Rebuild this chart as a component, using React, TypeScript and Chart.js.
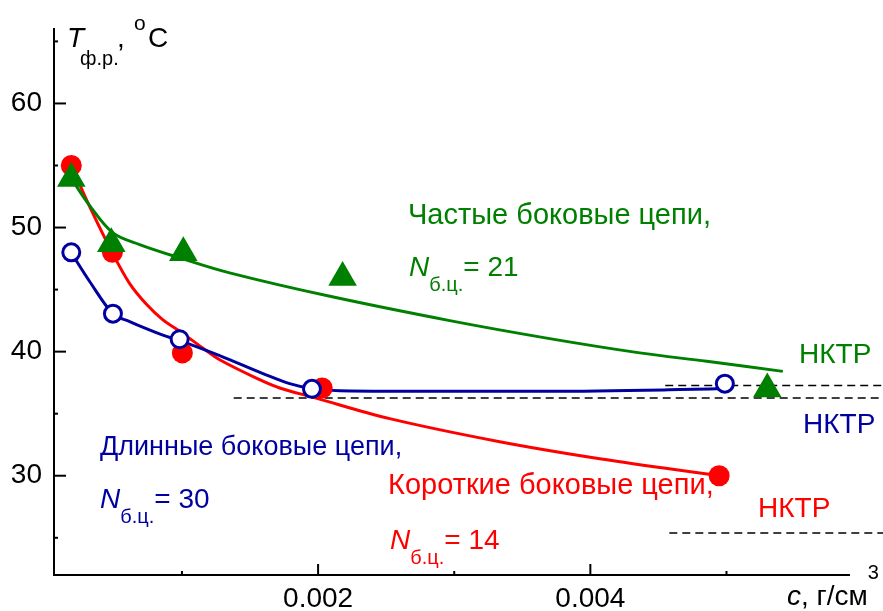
import { useEffect, useRef } from 'react';
import { Chart, registerables } from 'chart.js';

Chart.register(...registerables);

// ---- data (c in g/cm3, T in °C) ----
const redX = [0.000187, 0.000489, 0.001003, 0.00203, 0.004946];
const redY = [55.0, 48.0, 39.9, 37.07, 30.0];
const blueX = [0.000187, 0.000493, 0.000983, 0.001955, 0.004988];
const blueY = [48.0, 43.06, 41.0, 37.0, 37.42];
const greenX = [0.000187, 0.000481, 0.00101, 0.00218, 0.0053];
const greenY = [53.95, 48.7, 47.96, 45.97, 36.99];

const redCurveX = [0.000187, 0.000322, 0.000489, 0.000616, 0.000741, 0.000858, 0.000998, 0.001152, 0.001277, 0.001571, 0.001718, 0.00196, 0.002526, 0.003334, 0.004069, 0.004944];
const redCurveY = [55.0, 51.69, 47.96, 45.48, 43.79, 42.58, 41.53, 40.3, 39.35, 37.74, 37.07, 36.33, 34.6, 32.74, 31.37, 30.0];
const blueCurveX = [0.000187, 0.000322, 0.000493, 0.000616, 0.000738, 0.00086, 0.000983, 0.001277, 0.001595, 0.001791, 0.001953, 0.002159, 0.0026, 0.003702, 0.004657, 0.004988];
const blueCurveY = [47.96, 45.65, 43.06, 42.42, 41.85, 41.33, 40.89, 39.68, 38.23, 37.42, 37.02, 36.85, 36.81, 36.81, 36.94, 37.02];
const greenCurveX = [0.000187, 0.000322, 0.000493, 0.000689, 0.000983, 0.00135, 0.002087, 0.002967, 0.003701, 0.004363, 0.004855, 0.005414];
const greenCurveY = [53.95, 51.77, 49.57, 48.63, 47.56, 46.35, 44.46, 42.5, 41.05, 39.9, 39.22, 38.41];

const dashGreenX = [0.00455, 0.00615];
const dashGreenY = [37.28, 37.28];
const dashBlueX = [0.00138, 0.00615];
const dashBlueY = [36.27, 36.27];
const dashRedX = [0.00458, 0.00615];
const dashRedY = [25.38, 25.38];

const xMajorTicks = [0.002, 0.004];
const xMinorTicks = [0.001, 0.003, 0.005];
const yMajorTicks = [30, 40, 50, 60];
const yMinorTicks = [25, 35, 45, 55, 65];

const RED = '#ff0000';
const BLUE = '#0000a0';
const GREEN = '#008000';
const FONT = '"Liberation Sans", Arial, Helvetica, sans-serif';

const pts = (xs: number[], ys: number[]) => xs.map((x, i) => ({ x, y: ys[i] }));

type Run = { t: string; size: number; italic?: boolean; dy?: number };

function drawRuns(ctx: CanvasRenderingContext2D, x: number, y: number, color: string, runs: Run[]) {
  ctx.fillStyle = color;
  ctx.textBaseline = 'alphabetic';
  ctx.textAlign = 'left';
  let cx = x;
  for (const r of runs) {
    ctx.font = `${r.italic ? 'italic ' : ''}${r.size}px ${FONT}`;
    ctx.fillText(r.t, cx, y + (r.dy || 0));
    cx += ctx.measureText(r.t).width;
  }
}

const decorPlugin = {
  id: 'decor',
  afterDraw(chart: any) {
    const { ctx, chartArea, scales } = chart;
    const xs = scales.x;
    const ys = scales.y;
    ctx.save();
    ctx.strokeStyle = '#000';
    ctx.lineWidth = 2;
    ctx.setLineDash([]);
    const tick = (x1: number, y1: number, x2: number, y2: number) => {
      ctx.beginPath();
      ctx.moveTo(x1, y1);
      ctx.lineTo(x2, y2);
      ctx.stroke();
    };
    for (const v of yMajorTicks) { const p = ys.getPixelForValue(v); tick(chartArea.left, p, chartArea.left + 12, p); }
    for (const v of yMinorTicks) { const p = ys.getPixelForValue(v); tick(chartArea.left, p, chartArea.left + 4, p); }
    for (const v of xMajorTicks) { const p = xs.getPixelForValue(v); tick(p, chartArea.bottom, p, chartArea.bottom - 11); }
    for (const v of xMinorTicks) { const p = xs.getPixelForValue(v); tick(p, chartArea.bottom, p, chartArea.bottom - 4); }

    // axis titles
    drawRuns(ctx, 67, 47, '#000', [{ t: 'T', size: 28, italic: true }]);
    drawRuns(ctx, 80, 65, '#000', [{ t: 'ф.р.', size: 20 }]);
    drawRuns(ctx, 117, 47, '#000', [{ t: ',', size: 28 }]);
    drawRuns(ctx, 134, 30, '#000', [{ t: 'o', size: 21 }]);
    drawRuns(ctx, 148, 47, '#000', [{ t: 'C', size: 28 }]);
    drawRuns(ctx, 787, 605, '#000', [
      { t: 'c', size: 28, italic: true },
      { t: ', г/см', size: 28 },
      { t: '3', size: 20, dy: -26 },
    ]);

    // annotations
    drawRuns(ctx, 408, 224, GREEN, [{ t: 'Частые боковые цепи,', size: 29 }]);
    drawRuns(ctx, 409, 276, GREEN, [
      { t: 'N', size: 28, italic: true },
      { t: 'б.ц.', size: 20, dy: 15 },
      { t: '= 21', size: 28 },
    ]);
    drawRuns(ctx, 100, 455, BLUE, [{ t: 'Длинные боковые цепи,', size: 27 }]);
    drawRuns(ctx, 100, 508, BLUE, [
      { t: 'N', size: 28, italic: true },
      { t: 'б.ц.', size: 20, dy: 15 },
      { t: '= 30', size: 28 },
    ]);
    drawRuns(ctx, 388, 494, RED, [{ t: 'Короткие боковые цепи,', size: 29 }]);
    drawRuns(ctx, 390, 549, RED, [
      { t: 'N', size: 28, italic: true },
      { t: 'б.ц.', size: 20, dy: 15 },
      { t: '= 14', size: 28 },
    ]);
    drawRuns(ctx, 799, 363, GREEN, [{ t: 'НКТР', size: 28 }]);
    drawRuns(ctx, 803, 433, BLUE, [{ t: 'НКТР', size: 28 }]);
    drawRuns(ctx, 758, 517, RED, [{ t: 'НКТР', size: 28 }]);
    ctx.restore();
  },
};

export default function App() {
  const ref = useRef<HTMLCanvasElement | null>(null);
  useEffect(() => {
    const canvas = ref.current;
    if (!canvas) return;
    const curve = (xs: number[], ys: number[], color: string, order: number, monotone: boolean) => ({
      data: pts(xs, ys),
      borderColor: color,
      borderWidth: 3,
      pointRadius: 0,
      showLine: true,
      fill: false,
      tension: 0.35,
      cubicInterpolationMode: monotone ? 'monotone' : 'default',
      order,
    });
    const dash = (xs: number[], ys: number[], order: number) => ({
      data: pts(xs, ys),
      borderColor: '#000',
      borderWidth: 1.5,
      borderDash: [8, 5],
      pointRadius: 0,
      showLine: true,
      fill: false,
      clip: false,
      order,
    });
    const chart = new Chart(canvas, {
      type: 'line',
      data: {
        datasets: [
          {
            data: pts(greenX, greenY),
            showLine: false,
            pointStyle: 'triangle',
            pointRadius: 16.5,
            pointBackgroundColor: GREEN,
            pointBorderColor: GREEN,
            pointBorderWidth: 0,
            order: 0,
            clip: false,
          },
          {
            data: pts(blueX, blueY),
            showLine: false,
            pointStyle: 'circle',
            pointRadius: 8.5,
            pointBackgroundColor: '#ffffff',
            pointBorderColor: BLUE,
            pointBorderWidth: 3,
            order: 1,
            clip: false,
          },
          {
            data: pts(redX, redY),
            showLine: false,
            pointStyle: 'circle',
            pointRadius: 10.5,
            pointBackgroundColor: RED,
            pointBorderColor: RED,
            pointBorderWidth: 0,
            order: 2,
            clip: false,
          },
          curve(greenCurveX, greenCurveY, GREEN, 3, false),
          curve(blueCurveX, blueCurveY, BLUE, 4, true),
          curve(redCurveX, redCurveY, RED, 5, false),
          dash(dashGreenX, dashGreenY, 6),
          dash(dashBlueX, dashBlueY, 7),
          dash(dashRedX, dashRedY, 8),
        ] as any,
      },
      options: {
        responsive: false,
        animation: false,
        devicePixelRatio: 1,
        layout: { padding: { top: 29, right: 34, left: 0, bottom: 0 } },
        plugins: { legend: { display: false }, tooltip: { enabled: false } },
        elements: { point: { hoverRadius: 0 } },
        scales: {
          x: {
            type: 'linear',
            min: 0.00006,
            max: 0.0059,
            afterFit: (s: any) => { s.height = 36; },
            afterBuildTicks: (s: any) => { s.ticks = xMajorTicks.map((v) => ({ value: v })); },
            grid: { display: false, drawTicks: false },
            border: { display: true, color: '#000', width: 2 },
            ticks: {
              color: '#000',
              font: { family: FONT, size: 28 },
              padding: 7,
              maxRotation: 0,
              autoSkip: false,
              callback: (v: any) => Number(v).toFixed(3),
            },
          },
          y: {
            type: 'linear',
            min: 22,
            max: 66,
            afterFit: (s: any) => { s.width = 54; },
            afterBuildTicks: (s: any) => { s.ticks = yMajorTicks.map((v) => ({ value: v })); },
            grid: { display: false, drawTicks: false },
            border: { display: true, color: '#000', width: 2 },
            ticks: {
              color: '#000',
              font: { family: FONT, size: 28 },
              padding: 12,
              autoSkip: false,
              callback: (v: any) => String(v),
            },
          },
        },
      } as any,
      plugins: [decorPlugin],
    });
    return () => chart.destroy();
  }, []);
  return (
    <div style={{ position: 'fixed', left: 0, top: 0, width: 883, height: 611, background: '#fff' }}>
      <canvas ref={ref} width={883} height={611} style={{ display: 'block' }} />
    </div>
  );
}
